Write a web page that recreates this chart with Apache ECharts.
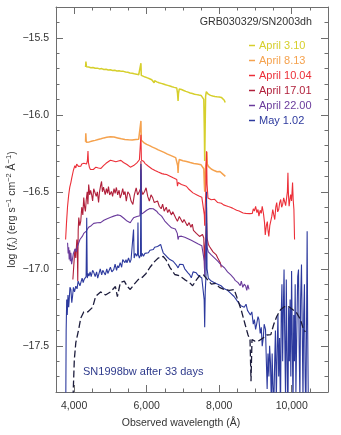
<!DOCTYPE html>
<html>
<head>
<meta charset="utf-8">
<script src="https://cdn.jsdelivr.net/npm/echarts@6/dist/echarts.min.js"></script>
<style>
  html, body { margin: 0; padding: 0; background: #fff; }
  #chart { width: 341px; height: 435px; }
</style>
</head>
<body>
<div id="chart"></div>
<script>
// spectra: [observed wavelength (Å), log f_lambda]
const april03 = [[4315,-15.690],[4325,-15.655],[4340,-15.688],[4400,-15.690],[4460,-15.694],[4520,-15.693],[4580,-15.698],[4640,-15.697],[4700,-15.702],[4760,-15.700],[4820,-15.706],[4880,-15.704],[4940,-15.709],[5000,-15.708],[5060,-15.712],[5120,-15.711],[5180,-15.715],[5240,-15.714],[5300,-15.718],[5360,-15.718],[5420,-15.722],[5480,-15.724],[5540,-15.728],[5600,-15.730],[5660,-15.734],[5720,-15.736],[5780,-15.740],[5830,-15.742],[5842,-15.665],[5852,-15.744],[5900,-15.750],[5960,-15.755],[6020,-15.760],[6080,-15.766],[6140,-15.772],[6190,-15.776],[6205,-15.792],[6220,-15.779],[6280,-15.786],[6340,-15.792],[6400,-15.796],[6460,-15.800],[6520,-15.805],[6580,-15.809],[6640,-15.813],[6700,-15.818],[6760,-15.822],[6830,-15.826],[6850,-15.860],[6866,-15.910],[6878,-15.860],[6900,-15.832],[6960,-15.836],[7020,-15.842],[7080,-15.848],[7140,-15.853],[7200,-15.858],[7260,-15.862],[7320,-15.866],[7380,-15.869],[7440,-15.872],[7500,-15.874],[7550,-15.876],[7575,-15.900],[7590,-16.100],[7600,-16.300],[7612,-16.100],[7625,-15.880],[7645,-15.850],[7660,-15.855],[7700,-15.866],[7760,-15.874],[7820,-15.878],[7880,-15.881],[7940,-15.883],[8000,-15.884],[8060,-15.887],[8110,-15.895],[8140,-15.905],[8165,-15.920]];

const april08 = [[4315,-16.175],[4322,-16.120],[4335,-16.178],[4380,-16.172],[4420,-16.176],[4460,-16.168],[4500,-16.170],[4540,-16.162],[4580,-16.166],[4620,-16.158],[4660,-16.160],[4700,-16.152],[4740,-16.156],[4780,-16.148],[4820,-16.150],[4860,-16.144],[4900,-16.146],[4950,-16.140],[5000,-16.143],[5050,-16.139],[5100,-16.144],[5150,-16.146],[5200,-16.150],[5250,-16.152],[5300,-16.156],[5350,-16.158],[5400,-16.160],[5450,-16.157],[5500,-16.162],[5550,-16.160],[5600,-16.163],[5650,-16.158],[5700,-16.160],[5750,-16.148],[5780,-16.158],[5800,-16.165],[5830,-16.162],[5842,-16.040],[5852,-16.165],[5880,-16.172],[5920,-16.180],[5960,-16.188],[6000,-16.192],[6040,-16.198],[6080,-16.200],[6120,-16.205],[6160,-16.210],[6200,-16.214],[6240,-16.218],[6280,-16.222],[6320,-16.228],[6360,-16.232],[6400,-16.236],[6440,-16.240],[6480,-16.244],[6520,-16.250],[6560,-16.254],[6600,-16.258],[6640,-16.262],[6680,-16.266],[6720,-16.270],[6760,-16.274],[6800,-16.278],[6840,-16.280],[6855,-16.330],[6866,-16.377],[6878,-16.320],[6900,-16.290],[6950,-16.292],[7000,-16.298],[7050,-16.300],[7100,-16.303],[7150,-16.306],[7200,-16.310],[7250,-16.312],[7300,-16.316],[7350,-16.318],[7400,-16.320],[7450,-16.322],[7500,-16.325],[7550,-16.328],[7575,-16.350],[7590,-16.450],[7600,-16.500],[7612,-16.420],[7625,-16.340],[7645,-16.300],[7660,-16.240],[7672,-16.320],[7700,-16.335],[7740,-16.345],[7780,-16.352],[7820,-16.358],[7860,-16.362],[7900,-16.360],[7940,-16.370],[7980,-16.372],[8020,-16.368],[8060,-16.380],[8100,-16.385],[8130,-16.378],[8150,-16.392],[8170,-16.400]];

const april10 = [[3765,-16.81],[3790,-16.70],[3819,-16.594],[3850,-16.52],[3880,-16.47],[3910,-16.44],[3935,-16.41],[3956,-16.399],[3980,-16.36],[4000,-16.37],[4020,-16.33],[4046,-16.345],[4070,-16.32],[4093,-16.323],[4120,-16.335],[4150,-16.325],[4183,-16.334],[4210,-16.32],[4240,-16.33],[4270,-16.315],[4300,-16.318],[4319,-16.312],[4340,-16.32],[4365,-16.30],[4382,-16.236],[4395,-16.31],[4420,-16.34],[4450,-16.355],[4480,-16.36],[4502,-16.366],[4530,-16.355],[4560,-16.345],[4600,-16.34],[4638,-16.334],[4670,-16.345],[4700,-16.338],[4740,-16.348],[4775,-16.344],[4810,-16.33],[4850,-16.325],[4880,-16.315],[4911,-16.312],[4940,-16.305],[4970,-16.298],[5000,-16.295],[5048,-16.29],[5080,-16.30],[5110,-16.295],[5150,-16.305],[5184,-16.312],[5220,-16.300],[5250,-16.305],[5290,-16.296],[5320,-16.301],[5360,-16.31],[5400,-16.318],[5457,-16.323],[5500,-16.33],[5550,-16.34],[5593,-16.344],[5640,-16.33],[5690,-16.318],[5730,-16.312],[5770,-16.30],[5800,-16.292],[5830,-16.295],[5842,-16.13],[5855,-16.295],[5880,-16.30],[5912,-16.301],[5950,-16.315],[6000,-16.325],[6048,-16.334],[6100,-16.345],[6140,-16.35],[6184,-16.355],[6230,-16.362],[6280,-16.37],[6320,-16.372],[6366,-16.377],[6420,-16.382],[6480,-16.385],[6548,-16.388],[6600,-16.395],[6660,-16.400],[6730,-16.409],[6780,-16.415],[6830,-16.42],[6849,-16.464],[6870,-16.44],[6900,-16.445],[6958,-16.453],[7020,-16.458],[7094,-16.464],[7150,-16.48],[7200,-16.49],[7276,-16.507],[7330,-16.512],[7400,-16.522],[7458,-16.529],[7520,-16.535],[7570,-16.54],[7590,-16.65],[7600,-16.72],[7612,-16.62],[7630,-16.50],[7650,-16.236],[7665,-16.45],[7690,-16.54],[7731,-16.55],[7780,-16.552],[7830,-16.55],[7867,-16.548],[7920,-16.56],[7960,-16.57],[8004,-16.575],[8060,-16.574],[8120,-16.585],[8186,-16.59],[8250,-16.596],[8310,-16.60],[8367,-16.606],[8420,-16.612],[8480,-16.62],[8549,-16.625],[8600,-16.63],[8660,-16.638],[8731,-16.64],[8780,-16.648],[8840,-16.642],[8880,-16.645],[8913,-16.64],[8940,-16.61],[8970,-16.625],[9004,-16.595],[9040,-16.635],[9070,-16.615],[9095,-16.658],[9130,-16.62],[9160,-16.64],[9186,-16.594],[9220,-16.64],[9250,-16.70],[9270,-16.78],[9286,-16.788],[9300,-16.72],[9327,-16.693],[9345,-16.75],[9368,-16.79],[9395,-16.72],[9423,-16.724],[9450,-16.66],[9477,-16.615],[9505,-16.65],[9532,-16.68],[9560,-16.60],[9586,-16.57],[9612,-16.63],[9641,-16.615],[9668,-16.57],[9696,-16.55],[9722,-16.60],[9750,-16.582],[9778,-16.54],[9805,-16.53],[9832,-16.59],[9859,-16.582],[9880,-16.50],[9895,-16.377],[9910,-16.52],[9928,-16.594],[9950,-16.55],[9969,-16.518],[9995,-16.56],[10023,-16.44],[10040,-16.55],[10060,-16.615],[10078,-16.81]];

const april17 = [[3965,-17.07],[3990,-16.98],[4020,-16.875],[4045,-16.93],[4075,-16.81],[4090,-16.90],[4100,-17.08],[4112,-16.75],[4128,-16.667],[4155,-16.72],[4183,-16.69],[4210,-16.60],[4240,-16.65],[4265,-16.537],[4290,-16.60],[4311,-16.628],[4335,-16.55],[4360,-16.50],[4380,-16.58],[4401,-16.453],[4430,-16.52],[4455,-16.49],[4483,-16.518],[4510,-16.56],[4540,-16.48],[4584,-16.472],[4610,-16.53],[4640,-16.50],[4674,-16.569],[4700,-16.50],[4730,-16.46],[4756,-16.433],[4780,-16.50],[4810,-16.47],[4857,-16.518],[4890,-16.48],[4920,-16.51],[4947,-16.466],[4980,-16.52],[5029,-16.498],[5060,-16.53],[5100,-16.48],[5130,-16.51],[5165,-16.472],[5200,-16.52],[5240,-16.49],[5270,-16.54],[5302,-16.518],[5340,-16.48],[5370,-16.52],[5403,-16.498],[5438,-16.561],[5480,-16.50],[5529,-16.518],[5570,-16.56],[5620,-16.582],[5660,-16.52],[5711,-16.474],[5750,-16.52],[5801,-16.496],[5830,-16.48],[5842,-16.30],[5855,-16.49],[5894,-16.518],[5940,-16.50],[5984,-16.474],[6030,-16.53],[6074,-16.561],[6120,-16.52],[6167,-16.539],[6210,-16.57],[6257,-16.582],[6300,-16.56],[6347,-16.594],[6400,-16.61],[6440,-16.58],[6483,-16.626],[6540,-16.60],[6580,-16.635],[6620,-16.615],[6680,-16.65],[6720,-16.63],[6756,-16.647],[6800,-16.67],[6849,-16.691],[6900,-16.66],[6939,-16.669],[6990,-16.70],[7030,-16.68],[7076,-16.691],[7120,-16.72],[7170,-16.70],[7220,-16.73],[7258,-16.71],[7290,-16.75],[7321,-16.745],[7370,-16.77],[7420,-16.76],[7458,-16.79],[7500,-16.78],[7540,-16.777],[7575,-16.80],[7595,-17.00],[7612,-16.85],[7630,-16.80],[7650,-16.60],[7665,-16.80],[7700,-16.84],[7731,-16.855],[7780,-16.86],[7830,-16.89],[7867,-16.888],[7920,-16.91],[7960,-16.93],[8004,-16.94],[8030,-16.96],[8058,-16.99]];

const april22 = [[3819,-16.831],[3835,-16.90],[3850,-16.86],[3864,-16.94],[3880,-16.88],[3895,-16.95],[3910,-16.896],[3930,-16.97],[3956,-16.961],[3980,-16.90],[4000,-16.907],[4030,-16.87],[4060,-16.89],[4093,-16.853],[4130,-16.83],[4160,-16.81],[4195,-16.80],[4229,-16.788],[4265,-16.77],[4300,-16.76],[4335,-16.755],[4366,-16.745],[4400,-16.73],[4440,-16.725],[4470,-16.72],[4502,-16.712],[4540,-16.705],[4590,-16.71],[4638,-16.701],[4690,-16.695],[4730,-16.70],[4775,-16.691],[4820,-16.685],[4870,-16.68],[4911,-16.675],[4960,-16.67],[5010,-16.665],[5050,-16.66],[5092,-16.658],[5140,-16.655],[5190,-16.65],[5230,-16.656],[5274,-16.654],[5320,-16.665],[5370,-16.672],[5411,-16.68],[5460,-16.69],[5500,-16.70],[5547,-16.701],[5590,-16.685],[5638,-16.669],[5690,-16.665],[5730,-16.660],[5774,-16.658],[5815,-16.655],[5830,-16.65],[5842,-16.355],[5855,-16.645],[5880,-16.64],[5912,-16.636],[5950,-16.628],[6000,-16.62],[6048,-16.615],[6090,-16.608],[6139,-16.604],[6180,-16.61],[6230,-16.618],[6275,-16.626],[6320,-16.64],[6370,-16.65],[6412,-16.658],[6460,-16.675],[6500,-16.69],[6548,-16.701],[6600,-16.715],[6640,-16.725],[6685,-16.734],[6740,-16.74],[6790,-16.742],[6821,-16.745],[6845,-16.77],[6866,-16.81],[6890,-16.79],[6920,-16.785],[6958,-16.788],[7010,-16.79],[7050,-16.795],[7094,-16.799],[7140,-16.805],[7190,-16.81],[7230,-16.815],[7276,-16.821],[7320,-16.826],[7370,-16.832],[7410,-16.838],[7458,-16.842],[7520,-16.85],[7570,-16.855],[7590,-16.95],[7600,-17.05],[7612,-16.95],[7630,-16.87],[7650,-16.70],[7665,-16.86],[7700,-16.89],[7731,-16.896],[7780,-16.91],[7830,-16.92],[7867,-16.929],[7910,-16.94],[7960,-16.95],[8004,-16.961],[8050,-16.975],[8100,-16.985],[8150,-16.995],[8186,-17.005],[8230,-17.02],[8280,-17.03],[8320,-17.04],[8367,-17.048],[8400,-17.06],[8440,-17.075],[8480,-17.065],[8520,-17.09],[8549,-17.091],[8580,-17.11],[8610,-17.08],[8650,-17.12],[8690,-17.10],[8731,-17.113],[8760,-17.14],[8790,-17.105],[8822,-17.134]];

const may01 = [[3770,-17.85],[3780,-17.40],[3795,-17.20],[3810,-17.30],[3830,-17.17],[3850,-17.25],[3864,-17.20],[3885,-17.12],[3910,-17.134],[3935,-17.22],[3956,-17.18],[3980,-17.12],[4010,-17.15],[4046,-17.113],[4080,-17.13],[4110,-17.08],[4137,-17.091],[4160,-17.11],[4183,-17.091],[4220,-17.06],[4250,-17.09],[4273,-17.07],[4300,-17.08],[4330,-17.05],[4347,-16.669],[4362,-17.06],[4385,-17.03],[4410,-17.048],[4440,-17.02],[4470,-17.05],[4510,-17.01],[4546,-17.026],[4580,-17.05],[4620,-17.02],[4650,-17.06],[4683,-17.048],[4720,-17.00],[4760,-17.04],[4790,-17.01],[4819,-17.015],[4860,-17.04],[4900,-17.00],[4930,-17.03],[4956,-17.026],[5000,-16.99],[5040,-17.02],[5092,-17.005],[5130,-16.97],[5170,-17.01],[5200,-16.98],[5228,-16.994],[5270,-16.96],[5310,-16.99],[5340,-16.94],[5365,-16.929],[5400,-16.96],[5430,-16.94],[5457,-16.961],[5500,-16.93],[5540,-16.96],[5570,-16.94],[5593,-16.94],[5620,-16.93],[5638,-16.745],[5655,-16.93],[5690,-16.90],[5730,-16.918],[5750,-16.90],[5760,-16.70],[5772,-16.91],[5800,-16.93],[5830,-16.91],[5842,-16.32],[5855,-16.92],[5880,-16.90],[5912,-16.918],[5950,-16.90],[5990,-16.91],[6048,-16.896],[6090,-16.88],[6130,-16.89],[6184,-16.875],[6220,-16.86],[6260,-16.87],[6300,-16.855],[6320,-16.864],[6350,-16.85],[6385,-16.842],[6420,-16.87],[6456,-16.896],[6500,-16.90],[6550,-16.92],[6593,-16.918],[6640,-16.94],[6690,-16.93],[6730,-16.951],[6780,-16.96],[6830,-16.98],[6866,-16.994],[6910,-16.97],[6950,-16.96],[7002,-16.972],[7050,-17.00],[7100,-16.99],[7139,-17.026],[7190,-17.04],[7231,-17.058],[7280,-17.02],[7320,-17.01],[7367,-17.026],[7410,-17.04],[7458,-17.048],[7520,-17.06],[7570,-17.06],[7585,-17.20],[7600,-17.38],[7615,-17.15],[7635,-17.05],[7650,-16.50],[7665,-17.00],[7700,-17.06],[7731,-17.07],[7780,-17.08],[7830,-17.07],[7870,-17.09],[7912,-17.091],[7960,-17.10],[8010,-17.09],[8050,-17.11],[8094,-17.113],[8140,-17.13],[8190,-17.12],[8230,-17.14],[8276,-17.134],[8320,-17.16],[8370,-17.15],[8410,-17.18],[8458,-17.188],[8500,-17.21],[8550,-17.20],[8600,-17.24],[8640,-17.243],[8690,-17.25],[8740,-17.23],[8780,-17.27],[8822,-17.264],[8860,-17.30],[8900,-17.28],[8940,-17.36],[8970,-17.33],[9004,-17.394],[9040,-17.35],[9070,-17.31],[9095,-17.329],[9130,-17.42],[9160,-17.38],[9186,-17.502],[9215,-17.45],[9240,-17.36],[9277,-17.394],[9300,-17.60],[9322,-17.78],[9345,-17.55],[9370,-17.70],[9390,-17.50],[9414,-17.61],[9440,-17.90],[9460,-17.55],[9480,-17.75],[9505,-17.90],[9530,-17.60],[9550,-17.40],[9575,-17.85],[9600,-17.50],[9620,-17.30],[9640,-17.70],[9665,-17.45],[9690,-17.95],[9710,-17.30],[9730,-17.10],[9750,-17.60],[9770,-17.25],[9788,-17.005],[9805,-17.40],[9830,-17.85],[9850,-17.07],[9870,-17.55],[9895,-17.95],[9915,-17.25],[9935,-17.60],[9955,-17.20],[9975,-17.70],[9996,-17.015],[10015,-17.45],[10035,-17.90],[10055,-17.30],[10075,-17.60],[10095,-17.10],[10115,-17.80],[10140,-17.40],[10165,-17.05],[10187,-17.005],[10205,-17.50],[10225,-17.85],[10245,-17.20],[10269,-16.972],[10290,-17.40],[10310,-17.85],[10330,-17.30],[10350,-17.10],[10370,-17.70],[10390,-17.95],[10410,-17.30],[10425,-16.756],[10440,-17.40],[10460,-17.95]];

const sn1998bw = [[3960,-17.90],[4005,-17.59],[4046,-17.48],[4128,-17.39],[4183,-17.32],[4265,-17.28],[4374,-17.28],[4510,-17.25],[4592,-17.18],[4729,-17.15],[4865,-17.17],[5002,-17.15],[5138,-17.115],[5193,-17.18],[5274,-17.09],[5384,-17.08],[5466,-17.115],[5547,-17.134],[5657,-17.10],[5766,-17.07],[5875,-17.056],[5984,-17.03],[6093,-16.99],[6230,-16.95],[6320,-16.93],[6457,-16.92],[6530,-16.94],[6639,-16.99],[6775,-17.037],[6912,-17.045],[7048,-17.07],[7185,-17.09],[7267,-17.11],[7376,-17.07],[7458,-17.045],[7567,-17.04],[7676,-17.07],[7785,-17.10],[7894,-17.095],[8004,-17.12],[8140,-17.134],[8276,-17.14],[8413,-17.134],[8494,-17.19],[8603,-17.264],[8713,-17.36],[8795,-17.43],[8850,-17.46],[8877,-17.73],[8904,-17.46],[8986,-17.47],[9095,-17.467],[9204,-17.45],[9313,-17.43],[9423,-17.427],[9505,-17.36],[9586,-17.31],[9696,-17.264],[9805,-17.245],[9914,-17.245],[10023,-17.264],[10132,-17.285],[10242,-17.33],[10324,-17.394],[10378,-17.41]];

const epochNames = ['April 3.10', 'April 8.13', 'April 10.04', 'April 17.01', 'April 22.00', 'May 1.02'];
const epochColors = ['#d6cf2c', '#f5a24e', '#ec2f38', '#b01f3a', '#6a3b9c', '#2d3a9e'];
const epochData = [april03, april08, april10, april17, april22, may01];
const xLabelTicks = [4000, 6000, 8000, 10000];
const yLabelTicks = [-17.5, -17.0, -16.5, -16.0, -15.5];

const FONT = 'Liberation Sans, Arial, sans-serif';
const AXIS_COLOR = '#6e6e6e';

let chart = echarts.init(document.getElementById('chart'), null, { renderer: 'canvas' });

let series = [];
for (let i = 0; i < epochData.length; i++) {
    series.push({
        type: 'line',
        name: epochNames[i],
        data: epochData[i],
        showSymbol: false,
        symbol: 'none',
        clip: true,
        lineStyle: { color: epochColors[i], width: i < 2 ? 1.5 : 1.1 },
        itemStyle: { color: epochColors[i] },
        z: 2 + i,
    });
}
series.push({
    type: 'line',
    name: 'SN1998bw',
    data: sn1998bw,
    showSymbol: false,
    symbol: 'none',
    clip: true,
    lineStyle: { color: '#1c1c3c', width: 1.3, type: [7, 3] },
    z: 10,
});

// minor ticks on the framed axes, longer major ticks on overlay axes
function minorX(pos, withLabels) {
    return {
        type: 'value', position: pos, min: 3500, max: 11000, interval: 500,
        axisLine: { show: true, onZero: false, lineStyle: { color: AXIS_COLOR, width: 1 } },
        axisTick: { show: true, inside: true, length: 3.5, lineStyle: { color: AXIS_COLOR } },
        splitLine: { show: false },
        axisLabel: withLabels ? {
            show: true, customValues: xLabelTicks, margin: 9,
            color: '#333', fontFamily: FONT, fontSize: 10.5,
            formatter: v => Number(v).toLocaleString('en-US'),
        } : { show: false },
    };
}
function majorX(pos) {
    return {
        type: 'value', position: pos, min: 3500, max: 11000,
        axisLine: { show: false },
        axisTick: { show: true, inside: true, length: 7, customValues: xLabelTicks, lineStyle: { color: AXIS_COLOR } },
        axisLabel: { show: false },
        splitLine: { show: false },
    };
}
function minorY(pos, withLabels) {
    return {
        type: 'value', position: pos, min: -17.8, max: -15.3, interval: 0.1,
        axisLine: { show: true, onZero: false, lineStyle: { color: AXIS_COLOR, width: 1 } },
        axisTick: { show: true, inside: true, length: 3.5, lineStyle: { color: AXIS_COLOR } },
        splitLine: { show: false },
        axisLabel: withLabels ? {
            show: true, customValues: yLabelTicks, margin: 7,
            color: '#333', fontFamily: FONT, fontSize: 10.5,
            formatter: v => Number(v).toFixed(1).replace('-', '\u2212'),
        } : { show: false },
    };
}
function majorY(pos) {
    return {
        type: 'value', position: pos, min: -17.8, max: -15.3,
        axisLine: { show: false },
        axisTick: { show: true, inside: true, length: 7, customValues: yLabelTicks, lineStyle: { color: AXIS_COLOR } },
        axisLabel: { show: false },
        splitLine: { show: false },
    };
}

let xMain = minorX('bottom', true);
xMain.name = 'Observed wavelength (\u00c5)';
xMain.nameLocation = 'middle';
xMain.nameGap = 26;
xMain.nameMoveOverlap = false;
xMain.nameTextStyle = { color: '#333', fontFamily: FONT, fontSize: 10.5, padding: [0, 22, 0, 0] };

let yMain = minorY('left', true);
yMain.name = '{a|log (}{i|f}{sub|\u03bb}{a|) (erg s}{sup|\u22121}{a| cm}{sup|\u22122}{a| \u00c5}{sup|\u22121}{a|)}';
yMain.nameLocation = 'middle';
yMain.nameGap = 37;
yMain.nameMoveOverlap = false;
yMain.nameTextStyle = {
    color: '#333', fontFamily: FONT, fontSize: 10.5, padding: [0, 20, 0, 0],
    rich: {
        a: { fontFamily: FONT, fontSize: 10.5, color: '#333', lineHeight: 14 },
        i: { fontFamily: FONT, fontSize: 10.5, color: '#333', fontStyle: 'italic', lineHeight: 14 },
        sub: { fontFamily: FONT, fontSize: 7.5, color: '#333', verticalAlign: 'bottom', lineHeight: 14 },
        sup: { fontFamily: FONT, fontSize: 7.5, color: '#333', verticalAlign: 'top', lineHeight: 14 },
    },
};

let option = {
    animation: false,
    backgroundColor: '#fff',
    textStyle: { fontFamily: FONT },
    grid: { left: 56, right: 13, top: 7, bottom: 43, containLabel: false, outerBoundsMode: 'none' },
    title: {
        text: 'GRB030329/SN2003dh',
        right: 29, top: 17, padding: 0,
        textStyle: { fontFamily: FONT, fontSize: 10.7, fontWeight: 'normal', color: '#333' },
    },
    legend: {
        data: epochNames.map((n, i) => ({ name: n, textStyle: { color: epochColors[i] } })),
        orient: 'vertical',
        left: 249, top: 40, padding: 0,
        icon: 'rect', itemWidth: 6, itemHeight: 1.5, itemGap: 4,
        textStyle: { fontFamily: FONT, fontSize: 11, padding: [0, 0, 0, -1] },
        selectedMode: false,
    },
    graphic: [{
        type: 'text', left: 83, top: 366,
        style: { text: 'SN1998bw after 33 days', fill: '#2e3a8c', font: '11px ' + FONT },
    }],
    xAxis: [xMain, minorX('top', false), majorX('bottom'), majorX('top')],
    yAxis: [yMain, minorY('right', false), majorY('left'), majorY('right')],
    series: series,
};
chart.setOption(option);
</script>
</body>
</html>
